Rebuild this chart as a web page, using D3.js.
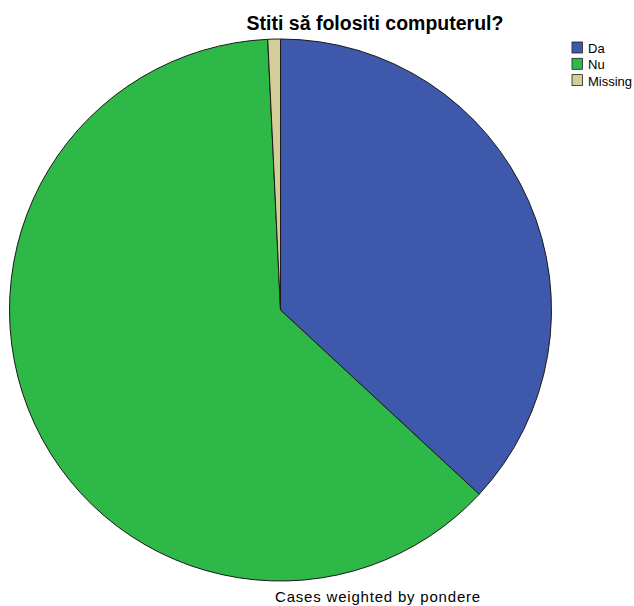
<!DOCTYPE html>
<html><head><meta charset="utf-8">
<script src="https://cdn.jsdelivr.net/npm/d3@7"></script>
<style>body{margin:0;background:#fff}</style>
</head><body>
<svg id="c" width="634" height="606"></svg>
<script>
const categories = ["Da", "Nu", "Missing"];
const values = [36.9, 62.35, 0.75];
const colors = ["#3e58ac", "#2eb848", "#d3ce97"];
const title = "Stiti să folositi computerul?";
const footnote = "Cases weighted by pondere";

const svg = d3.select("#c");
const cx = 280.5, cy = 310, r = 271;
const data = categories.map((c, i) => ({c, v: values[i], col: colors[i]}));
const pie = d3.pie().value(d => d.v).sort(null);
const arc = d3.arc().innerRadius(0).outerRadius(r);
svg.append("g").attr("transform", `translate(${cx},${cy})`)
  .selectAll("path").data(pie(data)).join("path")
  .attr("d", arc).attr("fill", d => d.data.col)
  .attr("stroke", "#1a1a1a").attr("stroke-width", 1);

svg.append("text").attr("x", 375).attr("y", 30).attr("text-anchor", "middle")
  .attr("font-family", "Arial, 'Liberation Sans', sans-serif").attr("font-weight", "bold")
  .attr("font-size", 19.5).text(title);
svg.append("text").attr("x", 378).attr("y", 602).attr("text-anchor", "middle")
  .attr("font-family", "Arial, 'Liberation Sans', sans-serif")
  .attr("font-size", 15).attr("letter-spacing", 0.8).text(footnote);

const lg = svg.append("g").attr("transform", "translate(572,42)");
const items = lg.selectAll("g").data(data).join("g")
  .attr("transform", (d, i) => `translate(0,${i * 16.3})`);
items.append("rect").attr("width", 10.5).attr("height", 11)
  .attr("fill", d => d.col).attr("stroke", "#222").attr("stroke-width", 0.8);
items.append("text").attr("x", 16).attr("y", 11)
  .attr("font-family", "Arial, 'Liberation Sans', sans-serif").attr("font-size", 13)
  .text(d => d.c);
</script>
</body></html>
